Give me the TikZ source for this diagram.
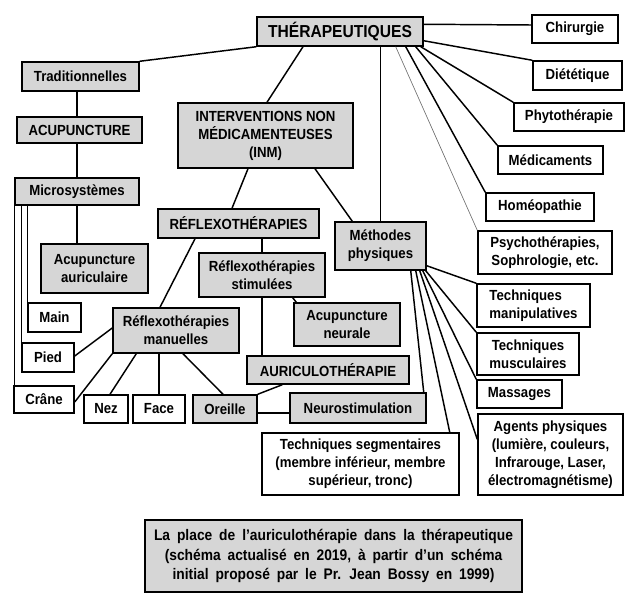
\documentclass[tikz,border=0pt]{standalone}
\usepackage{fontspec}
\setmainfont[FakeStretch=0.9]{Liberation Sans}
\usetikzlibrary{calc}
\definecolor{boxgray}{RGB}{214,214,214}
\newcommand{\capfont}{\fontsize{11.5}{14.3}\selectfont\bfseries\spaceskip=0.45em plus 0.1em\relax}
\begin{document}
\begin{tikzpicture}[x=0.75pt,y=-0.75pt,
  bx/.style={draw=black, line width=1.1pt, inner sep=0pt, align=center,
    font=\fontsize{11}{13.5}\selectfont\bfseries},
  gb/.style={bx, fill=boxgray},
  wb/.style={bx, fill=white},
  sz/.style 2 args={minimum width=#1*0.75pt, minimum height=#2*0.75pt},
  ln/.style={line width=1.1pt, draw=black},
  thin/.style={line width=0.5pt, draw=black!55}]
\useasboundingbox[fill=white] (0,0) rectangle (644,607);

% nodes
\node[gb, sz={166}{29}, font=\fontsize{13}{15}\selectfont\bfseries] (ther) at (340,31.5) {THÉRAPEUTIQUES};
\node[gb, sz={117}{29}] (trad) at (80.5,76.5) {Traditionnelles};
\node[gb, sz={125}{26}] (acu) at (79.5,130) {ACUPUNCTURE};
\node[gb, sz={124}{27}] (micro) at (77,191.5) {Microsystèmes};
\node[gb, sz={175}{65}] (inm) at (265.5,135.5) {INTERVENTIONS NON\\MÉDICAMENTEUSES\\(INM)};
\node[wb, sz={86}{28}] (chir) at (575,29) {Chirurgie};
\node[wb, sz={89}{29}] (diet) at (577.5,75.5) {Diététique};
\node[wb, sz={110}{28}] (phyto) at (569,117) {Phytothérapie};
\node[wb, sz={105}{28}] (medic) at (550.5,160) {Médicaments};
\node[wb, sz={108}{28}] (homeo) at (540,207) {Homéopathie};
\node[wb, sz={134}{43}] (psy) at (545,252.5) {Psychothérapies,\\Sophrologie, etc.};
\node[wb, sz={113}{43}, align=left] (manip) at (533.5,305.5) {Techniques\\manipulatives};
\node[wb, sz={102}{42}] (musc) at (528,354) {Techniques\\musculaires};
\node[wb, sz={85}{28}] (mass) at (519.5,394) {Massages};
\node[wb, sz={145}{81}] (agents) at (550.5,454.5) {Agents physiques\\(lumière, couleurs,\\Infrarouge, Laser,\\électromagnétisme)};
\node[wb, sz={197}{62}] (tseg) at (360.5,464) {Techniques segmentaires\\(membre inférieur, membre\\supérieur, tronc)};
\node[gb, sz={136}{30}] (neuro) at (358,408) {Neurostimulation};
\node[gb, sz={162}{28}] (auric) at (328,370) {AURICULOTHÉRAPIE};
\node[gb, sz={106}{43}] (acuneur) at (347,324.5) {Acupuncture\\neurale};
\node[gb, sz={91}{48}] (meth) at (380.5,246) {Méthodes\\physiques};
\node[gb, sz={161}{29}] (reflexo) at (238.5,223.5) {RÉFLEXOTHÉRAPIES};
\node[gb, sz={126}{44}] (rstim) at (262,275) {Réflexothérapies\\stimulées};
\node[gb, sz={107}{49}] (acuaur) at (94.5,268.5) {Acupuncture\\auriculaire};
\node[wb, sz={53}{29}] (main) at (54.5,317.5) {Main};
\node[gb, sz={126}{45}] (rman) at (176,330.5) {Réflexothérapies\\manuelles};
\node[wb, sz={52}{29}] (pied) at (48,357.5) {Pied};
\node[wb, sz={60}{27}] (crane) at (44,399.5) {Crâne};
\node[wb, sz={44}{28}] (nez) at (106,409) {Nez};
\node[wb, sz={52}{28}] (face) at (159,409) {Face};
\node[gb, sz={64}{28}] (oreille) at (225,409) {Oreille};
\node[gb, sz={377}{72}, font=\capfont] (caption) at (333.5,556) {La place de l’auriculothérapie dans la thérapeutique\\(schéma actualisé en 2019, à partir d’un schéma\\initial proposé par le Pr. Jean Bossy en 1999)};

% connectors from THÉRAPEUTIQUES
\draw[ln] (ther.south west) -- (trad.north east);
\draw[ln] ($(ther.south)+(-37,0)$) -- ($(inm.north)+(1.5,0)$);
\draw[ln] (meth.north |- ther.south) -- (meth.north);
\draw[ln] ($(ther.north east)+(0,8)$) -- ($(chir.west)+(0,-4)$);
\draw[ln] ($(ther.south east)+(0,-6)$) -- (diet.north west);
\draw[ln] ($(ther.south east)+(-3,0)$) -- (phyto.north west);
\draw[ln] ($(ther.south east)+(-8,0)$) -- (medic.north west);
\draw[ln] ($(ther.south east)+(-18,0)$) -- (homeo.north west);
\draw[thin] ($(ther.south east)+(-28,0)$) -- (psy.north west);

% traditional branch
\draw[ln] (trad.south -| micro.north) -- (acu.north -| micro.north);
\draw[ln] (acu.south -| micro.north) -- (micro.north);
\draw[ln] (micro.south) -- (acuaur.north -| micro.south);
\draw[ln] (micro.south west) -- (micro.south west |- crane.north);
\draw[ln] (pied.north west |- micro.south) -- (pied.north west);
\draw[ln] (main.north west |- micro.south) -- (main.north west);

% INM branch
\draw[ln] ($(inm.south)+(-17.5,0)$) -- ($(reflexo.north)+(-6.5,0)$);
\draw[ln] ($(inm.south)+(49.5,0)$) -- ($(meth.north west)+(18,0)$);
\draw[ln] ($(reflexo.south)+(-43.5,0)$) -- ($(rman.north)+(-16,0)$);
\draw[ln] (rstim.north |- reflexo.south) -- (rstim.north);
\draw[ln] (rstim.south) -- (rstim.south |- auric.north);
\draw[ln] ($(rstim.south east)+(-33,0)$) -- ($(acuneur.north west)+(3,0)$);
\draw[ln] ($(acuneur.north)+(20,0)$ |- meth.south) -- ($(acuneur.north)+(20,0)$);
\draw[ln] ($(acuneur.south)+(-11,0)$) -- ($(acuneur.south)+(-11,0)$ |- auric.north);
\draw[ln] ($(auric.north east)+(-4,0)$ |- meth.south) -- ($(auric.north east)+(-4,0)$);

% Méthodes physiques fan
\draw[ln] ($(meth.south east)+(-16,0)$) -- ($(neuro.north east)+(-3,0)$);
\draw[ln] ($(meth.south east)+(-11,0)$) -- ($(tseg.north east)+(-10,0)$);
\draw[ln] ($(meth.south east)+(-7,0)$) -- ($(agents.north west)+(0,26)$);
\draw[ln] ($(meth.south east)+(-4,0)$) -- (mass.north west);
\draw[ln] ($(meth.south east)+(-1,0)$) -- (musc.north west);
\draw[ln] ($(meth.south east)+(0,-5)$) -- (manip.north west);

% auriculothérapie
\draw[ln] ($(auric.south west)+(36,0)$) -- (oreille.north east);
\draw[ln] ($(neuro.north)+(-5,0)$ |- auric.south) -- ($(neuro.north)+(-5,0)$);
\draw[ln] ($(neuro.south)+(-5,0)$) -- ($(neuro.south)+(-5,0)$ |- tseg.north);
\draw[ln] ($(oreille.east)+(0,4)$) -- ($(neuro.west)+(0,5)$);
\draw[ln] ($(tseg.east)+(0,8)$) -- ($(tseg.east)+(0,8)$ -| agents.west);

% réflexothérapies manuelles
\draw[ln] ($(main.east)+(0,-5)$) -- ($(main.east)+(0,-5)$ -| rman.west);
\draw[ln] ($(rman.west)+(0,-2.5)$) -- ($(pied.east)+(0,-1.5)$);
\draw[ln] (rman.south west) -- ($(crane.east)+(0,2.5)$);
\draw[ln] ($(rman.south west)+(24,0)$) -- ($(nez.north)+(4,0)$);
\draw[ln] (face.north |- rman.south) -- (face.north);
\draw[ln] ($(rman.south)+(7,0)$) -- ($(oreille.north)+(-2,0)$);
\end{tikzpicture}
\end{document}
